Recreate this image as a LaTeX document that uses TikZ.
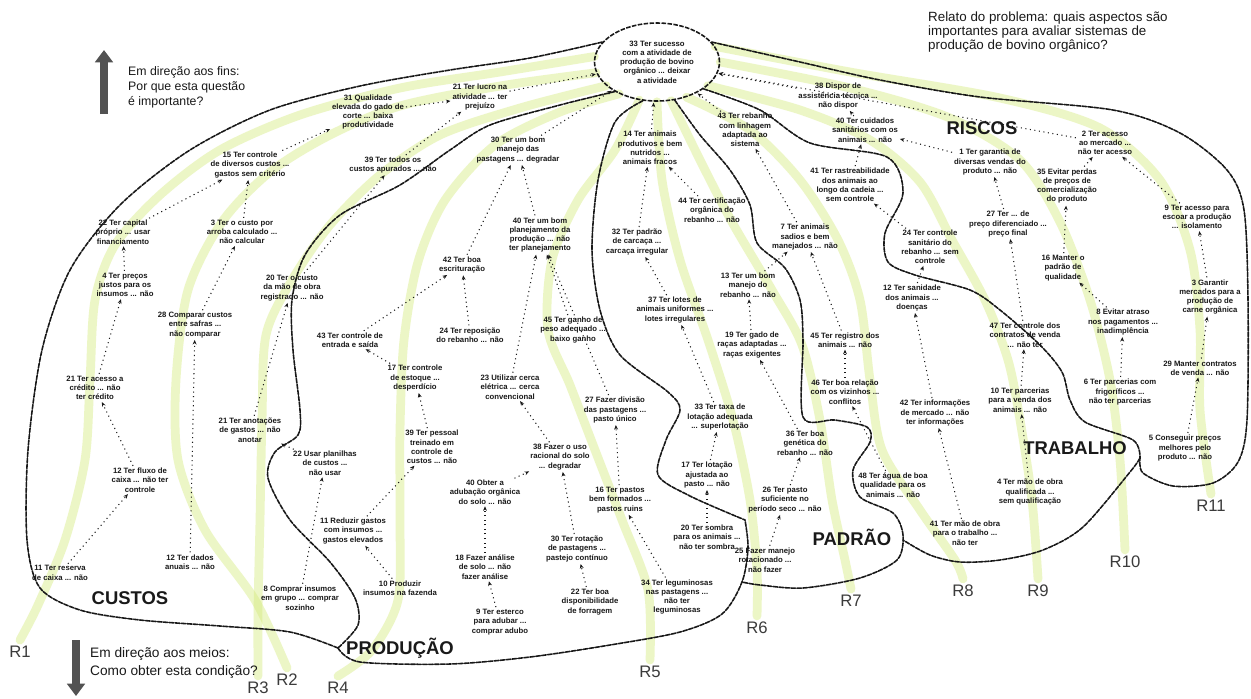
\documentclass[tikz,border=0pt]{standalone}
\usepackage{fontspec}
\setmainfont{Liberation Sans}
\usetikzlibrary{shapes.geometric,arrows.meta}
\definecolor{yg}{RGB}{212,234,120}
\definecolor{ink}{RGB}{25,25,25}
\pgfdeclarelayer{bg}
\pgfsetlayers{bg,main}
\begin{document}
\begin{tikzpicture}[x=0.02cm,y=-0.02cm,
  t/.style={font=\fontsize{4.4}{5.3}\selectfont\bfseries, align=center, inner sep=0.5pt, text=ink},
  reg/.style={draw=ink, line width=0.9pt, dash pattern=on 2.6pt off 0.8pt, line cap=round},
  ypath/.style={draw=yg, line width=5pt, opacity=0.42, line cap=round, line join=round},
  lk/.style={draw=ink, line width=0.6pt, dotted, -{Stealth[length=2.6pt,width=2.2pt]}, shorten >=0.5pt, shorten <=0.5pt},
  rl/.style={font=\fontsize{9.5}{10}\selectfont, text=ink!85},
  area/.style={font=\fontsize{10.5}{11}\selectfont\bfseries, text=ink},
  lg/.style={font=\fontsize{7}{8.5}\selectfont, align=left, text=ink, anchor=west}]

\begin{pgfonlayer}{bg}
\fill[white] (0,0) rectangle (1251,698);
\end{pgfonlayer}
\useasboundingbox (0,0) rectangle (1251,698);

% central node
\node[t, ellipse, draw=ink, line width=0.9pt, dash pattern=on 2.6pt off 0.8pt, minimum width=2.5cm, minimum height=1.56cm, inner sep=0pt] (c) at (657,62)
  {33 Ter sucesso\\com a atividade de\\produção de bovino\\orgânico ... deixar\\a atividade};

% legends and title
\coordinate (upA) at (104,114); \coordinate (upB) at (104,50);
\draw[line width=5pt, draw=ink!75, -{Triangle[length=7pt,width=10pt]}] (upA) -- (upB);
\node[lg] (lgtop) at (122,87) {Em direção aos fins:\\Por que esta questão\\é importante?};
\coordinate (dnA) at (76,640); \coordinate (dnB) at (76,696);
\draw[line width=5pt, draw=ink!75, -{Triangle[length=7pt,width=10pt]}] (dnA) -- (dnB);
\node[lg, font=\fontsize{7.8}{10.5}\selectfont] (lgbot) at (84,663) {Em direção aos meios:\\Como obter esta condição?};
\node[lg, anchor=north west, font=\fontsize{7.6}{7.9}\selectfont] (title) at (922,6) {Relato do problema: quais aspectos são\\importantes para avaliar sistemas de\\produção de bovino orgânico?};

% area labels
\node[area] (riscos) at (982,128) {RISCOS};
\node[area] (trab) at (1075,448) {TRABALHO};
\node[area] (padrao) at (852,537) {PADRÃO};
\node[area] (custos) at (130,598) {CUSTOS};
\node[area] (prod) at (400,648) {PRODUÇÃO};

% R labels
\node[rl] (R1) at (20,652) {R1};
\node[rl] (R2) at (287,680) {R2};
\node[rl] (R3) at (258,688) {R3};
\node[rl] (R4) at (338,688) {R4};
\node[rl] (R5) at (650,672) {R5};
\node[rl] (R6) at (757,628) {R6};
\node[rl] (R7) at (851,601) {R7};
\node[rl] (R8) at (963,591) {R8};
\node[rl] (R9) at (1038,591) {R9};
\node[rl] (R10) at (1125,562) {R10};
\node[rl] (R11) at (1211,506) {R11};

% concept nodes
\node[t] (a1) at (480,97) {21 Ter lucro na\\atividade ... ter\\prejuízo};
\node[t] (a2) at (368,112) {31 Qualidade\\elevada do gado de\\corte ... baixa\\produtividade};
\node[t] (a3) at (518,150) {30 Ter um bom\\manejo das\\pastagens ... degradar};
\node[t] (a4) at (250,165) {15 Ter controle\\de diversos custos ...\\gastos sem critério};
\node[t] (a5) at (393,165) {39 Ter todos os\\custos apurados ... não};
\node[t] (a6) at (650,148) {14 Ter animais\\produtivos e bem\\nutridos ...\\animais fracos};
\node[t] (a7) at (745,130) {43 Ter rebanho\\com linhagem\\adaptada ao\\sistema};
\node[t] (a9) at (838,96) {38 Dispor de\\assistência técnica ...\\não dispor};
\node[t] (a8) at (865,130) {40 Ter cuidados\\sanitários com os\\animais ... não};
\node[t] (a10) at (990,162) {1 Ter garantia de\\diversas vendas do\\produto ... não};
\node[t] (a11) at (1105,143) {2 Ter acesso\\ao mercado ...\\não ter acesso};
\node[t] (a12) at (1067,186) {35 Evitar perdas\\de preços de\\comercialização\\do produto};
\node[t] (a13) at (1197,217) {9 Ter acesso para\\escoar a produção\\... isolamento};
\node[t] (a14) at (1008,224) {27 Ter ... de\\preço diferenciado ...\\preço final};
\node[t] (a15) at (1063,268) {16 Manter o\\padrão de\\qualidade};
\node[t] (a16) at (1210,297) {3 Garantir\\mercados para a\\produção de\\carne orgânica};
\node[t] (a17) at (1123,322) {8 Evitar atraso\\nos pagamentos ...\\inadimplência};
\node[t] (a18) at (1025,335) {47 Ter controle dos\\contratos de venda\\... não ter};
\node[t] (a19) at (1200,368) {29 Manter contratos\\de venda ... não};
\node[t] (a20) at (1120,392) {6 Ter parcerias com\\frigoríficos ...\\não ter parcerias};
\node[t] (a21) at (1185,448) {5 Conseguir preços\\melhores pelo\\produto ... não};
\node[t] (a22) at (1030,492) {4 Ter mão de obra\\qualificada ...\\sem qualificação};
\node[t] (a23) at (1020,400) {10 Ter parcerias\\para a venda dos\\animais ... não};
\node[t] (a24) at (935,413) {42 Ter informações\\de mercado ... não\\ter informações};
\node[t] (a25) at (845,392) {46 Ter boa relação\\com os vizinhos ...\\conflitos};
\node[t] (a26) at (752,345) {19 Ter gado de\\raças adaptadas ...\\raças exigentes};
\node[t] (a27) at (845,340) {45 Ter registro dos\\animais ... não};
\node[t] (a28) at (805,443) {36 Ter boa\\genética do\\rebanho ... não};
\node[t] (a29) at (893,485) {48 Ter água de boa\\qualidade para os\\animais ... não};
\node[t] (a30) at (785,500) {26 Ter pasto\\suficiente no\\período seco ... não};
\node[t] (a31) at (965,533) {41 Ter mão de obra\\para o trabalho ...\\não ter};
\node[t] (a32) at (765,560) {25 Fazer manejo\\rotacionado ...\\não fazer};
\node[t] (a33) at (712,210) {44 Ter certificação\\orgânica do\\rebanho ... não};
\node[t] (a34) at (540,235) {40 Ter um bom\\planejamento da\\produção ... não\\ter planejamento};
\node[t] (a35) at (637,242) {32 Ter padrão\\de carcaça ...\\carcaça irregular};
\node[t] (a36) at (462,265) {42 Ter boa\\escrituração};
\node[t] (a37) at (675,310) {37 Ter lotes de\\animais uniformes ...\\lotes irregulares};
\node[t] (a38) at (573,330) {45 Ter ganho de\\peso adequado ...\\baixo ganho};
\node[t] (a39) at (470,335) {24 Ter reposição\\do rebanho ... não};
\node[t] (a40) at (850,185) {41 Ter rastreabilidade\\dos animais ao\\longo da cadeia ...\\sem controle};
\node[t] (a41) at (805,237) {7 Ter animais\\sadios e bem\\manejados ... não};
\node[t] (a42) at (930,247) {24 Ter controle\\sanitário do\\rebanho ... sem\\controle};
\node[t] (a43) at (748,285) {13 Ter um bom\\manejo do\\rebanho ... não};
\node[t] (a44) at (912,298) {12 Ter sanidade\\dos animais ...\\doenças};
\node[t] (a46) at (510,387) {23 Utilizar cerca\\elétrica ... cerca\\convencional};
\node[t] (a47) at (615,410) {27 Fazer divisão\\das pastagens ...\\pasto único};
\node[t] (a48) at (720,417) {33 Ter taxa de\\lotação adequada\\... superlotação};
\node[t] (a49) at (560,457) {38 Fazer o uso\\racional do solo\\... degradar};
\node[t] (a50) at (707,475) {17 Ter lotação\\ajustada ao\\pasto ... não};
\node[t] (a51) at (620,500) {16 Ter pastos\\bem formados ...\\pastos ruins};
\node[t] (a52) at (485,492) {40 Obter a\\adubação orgânica\\do solo ... não};
\node[t] (a53) at (707,537) {20 Ter sombra\\para os animais ...\\não ter sombra};
\node[t] (a54) at (577,549) {30 Ter rotação\\de pastagens ...\\pastejo contínuo};
\node[t] (a55) at (485,567) {18 Fazer análise\\de solo ... não\\fazer análise};
\node[t] (a56) at (677,597) {34 Ter leguminosas\\nas pastagens ...\\não ter\\leguminosas};
\node[t] (a57) at (590,602) {22 Ter boa\\disponibilidade\\de forragem};
\node[t] (a58) at (500,622) {9 Ter esterco\\para adubar ...\\comprar adubo};
\node[t] (a59) at (350,340) {43 Ter controle de\\entrada e saída};
\node[t] (a60) at (415,378) {17 Ter controle\\de estoque ...\\desperdício};
\node[t] (a62) at (250,430) {21 Ter anotações\\de gastos ... não\\anotar};
\node[t] (a63) at (325,463) {22 Usar planilhas\\de custos ...\\não usar};
\node[t] (a64) at (432,447) {39 Ter pessoal\\treinado em\\controle de\\custos ... não};
\node[t] (a65) at (353,531) {11 Reduzir gastos\\com insumos ...\\gastos elevados};
\node[t] (a66) at (400,588) {10 Produzir\\insumos na fazenda};
\node[t] (a67) at (300,598) {8 Comprar insumos\\em grupo ... comprar\\sozinho};
\node[t] (a68) at (190,562) {12 Ter dados\\anuais ... não};
\node[t] (a69) at (123,232) {22 Ter capital\\próprio ... usar\\financiamento};
\node[t] (a70) at (242,232) {3 Ter o custo por\\arroba calculado ...\\não calcular};
\node[t] (a71) at (125,285) {4 Ter preços\\justos para os\\insumos ... não};
\node[t] (a72) at (195,325) {28 Comparar custos\\entre safras ...\\não comparar};
\node[t] (a73) at (292,288) {20 Ter o custo\\da mão de obra\\registrado ... não};
\node[t] (a74) at (95,388) {21 Ter acesso a\\crédito ... não\\ter crédito};
\node[t] (a75) at (60,573) {11 Ter reserva\\de caixa ... não};
\node[t] (a76) at (140,480) {12 Ter fluxo de\\caixa ... não ter\\controle};

% highlighted routes
\begin{pgfonlayer}{bg}
\draw[ypath] plot[smooth] coordinates {(c.175) (500,72) (400,88) (300,115) (220,150) (160,195) (115,245) (95,300) (90,380) (85,460) (65,540) (38,605) (R1.north)};
\draw[ypath] plot[smooth] coordinates {(c.190) (500,86) (400,106) (330,135) (270,172) (222,222) (188,290) (176,380) (178,460) (205,530) (255,600) (R2.north)};
\draw[ypath] plot[smooth] coordinates {(c.205) (520,108) (440,135) (380,175) (330,225) (292,280) (266,335) (262,420) (260,520) (258,610) (R3.north)};
\draw[ypath] plot[smooth] coordinates {(c.220) (560,112) (495,145) (445,200) (418,262) (404,340) (400,430) (400,520) (398,600) (372,650) (R4.north)};
\draw[ypath] plot[smooth] coordinates {(c.245) (615,150) (578,200) (552,260) (548,330) (570,385) (595,450) (622,520) (648,590) (R5.north)};
\draw[ypath] plot[smooth] coordinates {(c.270) (662,180) (680,260) (708,340) (733,420) (750,500) (757,570) (R6.north)};
\draw[ypath] plot[smooth] coordinates {(c.290) (700,160) (732,222) (772,290) (802,345) (820,420) (832,500) (845,560) (R7.north)};
\draw[ypath] plot[smooth] coordinates {(c.310) (750,130) (800,180) (838,240) (860,300) (870,380) (882,450) (920,510) (955,560) (R8.north)};
\draw[ypath] plot[smooth] coordinates {(c.335) (800,110) (870,140) (920,182) (952,240) (985,300) (1008,360) (1020,420) (1032,500) (R9.north)};
\draw[ypath] plot[smooth] coordinates {(c.0) (850,88) (950,118) (1020,160) (1060,222) (1090,300) (1110,380) (1120,460) (R10.north)};
\draw[ypath] plot[smooth] coordinates {(c.15) (850,72) (1000,98) (1100,128) (1160,180) (1190,250) (1200,330) (1200,410) (R11.north)};
\end{pgfonlayer}

% area boundaries
\draw[reg] plot[smooth] coordinates {(c.160) (530,58) (450,70) (360,86) (270,110) (190,150) (120,205) (70,270) (42,350) (28,450) (27,540) (40,588) (80,610) (140,620) (220,626) (290,632) (338,648)};
\draw[reg] plot[smooth] coordinates {(c.215) (560,105) (490,125) (450,150) (400,185) (340,215) (305,255) (292,300) (293,350) (300,410) (298,435) (275,452) (268,478) (290,520) (330,562) (355,598) (358,625) (338,648)};
\draw[reg] plot[smooth] coordinates {(338,648) (360,662) (450,664) (530,657) (610,645) (680,632) (722,614) (742,582) (748,548) (745,520)};
\draw[reg] plot[smooth] coordinates {(c.250) (615,122) (598,180) (592,250) (600,310) (620,355) (668,392) (680,410) (666,440) (658,475) (690,496) (745,520)};
\draw[reg] plot[smooth] coordinates {(c.295) (700,135) (730,170) (750,205) (757,243) (785,268) (800,300) (803,340) (803,417) (835,420) (867,427) (870,442) (853,470) (860,497) (893,513) (903,535) (897,560) (860,578) (803,588) (760,585) (742,582)};
\draw[reg] plot[smooth] coordinates {(c.330) (760,110) (810,143) (887,157) (903,193) (885,233) (888,262) (915,275) (970,290) (1000,310) (1040,345) (1062,372) (1070,400) (1085,422) (1133,440) (1140,458)};
\draw[reg] plot[smooth] coordinates {(1140,458) (1130,472) (1083,527) (1043,550) (1000,560) (960,562) (930,555) (903,540)};
\draw[reg] plot[smooth] coordinates {(c.20) (800,62) (880,80) (980,97) (1113,110) (1180,133) (1227,170) (1244,210) (1248,300) (1247,420) (1238,462) (1213,483) (1173,486) (1143,473) (1140,458)};

% links (means -> ends)
\draw[lk] (a1) -- (c);
\draw[lk] (a2) -- (a1);
\draw[lk] (a3) -- (c);
\draw[lk] (a5) -- (a1);
\draw[lk] (a4) -- (a2);
\draw[lk] (a6) -- (c);
\draw[lk] (a7) -- (c);
\draw[lk] (a9) -- (c);
\draw[lk] (a8) -- (a9);
\draw[lk] (a10) -- (a8);
\draw[lk] (a11) -- (c);
\draw[lk] (a12) -- (a11);
\draw[lk] (a13) -- (a11);
\draw[lk] (a14) -- (a10);
\draw[lk] (a15) -- (a12);
\draw[lk] (a16) -- (a13);
\draw[lk] (a17) -- (a15);
\draw[lk] (a18) -- (a14);
\draw[lk] (a19) -- (a16);
\draw[lk] (a20) -- (a17);
\draw[lk] (a21) -- (a19);
\draw[lk] (a23) -- (a18);
\draw[lk] (a22) -- (a23);
\draw[lk] (a69) -- (a4);
\draw[lk] (a70) -- (a4);
\draw[lk] (a71) -- (a69);
\draw[lk] (a72) -- (a70);
\draw[lk] (a73) -- (a5);
\draw[lk] (a74) -- (a71);
\draw[lk] (a76) -- (a74);
\draw[lk] (a75) -- (a76);
\draw[lk] (a68) -- (a72);
\draw[lk] (a62) -- (a73);
\draw[lk] (a63) -- (a62);
\draw[lk] (a67) -- (a63);
\draw[lk] (a59) -- (a36);
\draw[lk] (a60) -- (a59);
\draw[lk] (a64) -- (a60);
\draw[lk] (a65) -- (a64);
\draw[lk] (a66) -- (a65);
\draw[lk] (a36) -- (a3);
\draw[lk] (a34) -- (a3);
\draw[lk] (a39) -- (a36);
\draw[lk] (a46) -- (a34);
\draw[lk] (a47) -- (a34);
\draw[lk] (a49) -- (a46);
\draw[lk] (a52) -- (a49);
\draw[lk] (a55) -- (a52);
\draw[lk] (a58) -- (a55);
\draw[lk] (a54) -- (a49);
\draw[lk] (a57) -- (a54);
\draw[lk] (a51) -- (a47);
\draw[lk] (a56) -- (a51);
\draw[lk] (a53) -- (a50);
\draw[lk] (a50) -- (a48);
\draw[lk] (a48) -- (a37);
\draw[lk] (a37) -- (a35);
\draw[lk] (a35) -- (a6);
\draw[lk] (a33) -- (a6);
\draw[lk] (a38) -- (a34);
\draw[lk] (a41) -- (a7);
\draw[lk] (a43) -- (a41);
\draw[lk] (a40) -- (a8);
\draw[lk] (a42) -- (a40);
\draw[lk] (a44) -- (a42);
\draw[lk] (a26) -- (a43);
\draw[lk] (a27) -- (a41);
\draw[lk] (a25) -- (a27);
\draw[lk] (a28) -- (a26);
\draw[lk] (a30) -- (a28);
\draw[lk] (a32) -- (a30);
\draw[lk] (a29) -- (a25);
\draw[lk] (a24) -- (a44);
\draw[lk] (a31) -- (a24);
\end{tikzpicture}
\end{document}
